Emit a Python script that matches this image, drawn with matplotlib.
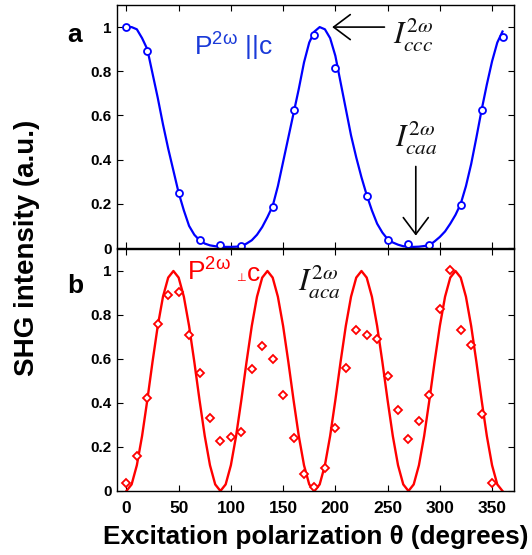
import matplotlib
matplotlib.use("Agg")
import matplotlib.pyplot as plt
import numpy as np

plt.rcParams['font.family'] = ['Liberation Sans', 'DejaVu Sans']
plt.rcParams['mathtext.fontset'] = 'custom'
plt.rcParams['mathtext.rm'] = 'Liberation Sans'
plt.rcParams['mathtext.it'] = 'Liberation Sans:italic'
plt.rcParams['mathtext.bf'] = 'Liberation Sans:bold'

# panel a: P(2w) || c, measured points
par_theta = [0, 20, 50, 70, 90, 110, 140, 160, 180, 200, 230, 250, 270, 290, 320, 340, 360]
par_int = [1.0, 0.893, 0.25, 0.038, 0.012, 0.011, 0.186, 0.624, 0.962, 0.813,
           0.235, 0.038, 0.018, 0.012, 0.196, 0.626, 0.953]

# fitted curve read every 5 degrees
fit_theta = np.arange(0, 361, 5)
par_fit = [1.00, 1.00, 0.99, 0.95, 0.90, 0.79, 0.68, 0.56, 0.45, 0.35,
           0.25, 0.17, 0.10, 0.06, 0.035, 0.02, 0.012, 0.008, 0.006, 0.005,
           0.005, 0.006, 0.008, 0.02, 0.035, 0.06, 0.095, 0.14, 0.19, 0.28,
           0.39, 0.50, 0.61, 0.72, 0.84, 0.93, 0.98, 1.00, 0.99, 0.95,
           0.87, 0.75, 0.63, 0.51, 0.41, 0.32, 0.24, 0.17, 0.11, 0.07,
           0.04, 0.025, 0.015, 0.008, 0.006, 0.005, 0.006, 0.009, 0.012, 0.03,
           0.05, 0.075, 0.11, 0.15, 0.20, 0.28, 0.38, 0.50, 0.625, 0.74,
           0.845, 0.93, 0.98]

# panel b: P(2w) perp c
perp_theta = np.arange(0, 351, 10)
perp_int = [0.036, 0.159, 0.423, 0.757, 0.893, 0.906, 0.710, 0.538, 0.332, 0.228,
            0.245, 0.270, 0.554, 0.659, 0.601, 0.438, 0.239, 0.076, 0.018, 0.104,
            0.286, 0.557, 0.731, 0.710, 0.693, 0.523, 0.367, 0.236, 0.317, 0.438,
            0.828, 1.003, 0.730, 0.665, 0.349, 0.038]
perp_fit = [0.0, 0.03, 0.117, 0.25, 0.413, 0.587, 0.75, 0.883, 0.97, 1.0,
            0.97, 0.883, 0.75, 0.587, 0.413, 0.25, 0.117, 0.03, 0.0,
            0.03, 0.117, 0.25, 0.413, 0.587, 0.75, 0.883, 0.97, 1.0,
            0.97, 0.883, 0.75, 0.587, 0.413, 0.25, 0.117, 0.03, 0.0,
            0.03, 0.117, 0.25, 0.413, 0.587, 0.75, 0.883, 0.97, 1.0,
            0.97, 0.883, 0.75, 0.587, 0.413, 0.25, 0.117, 0.03, 0.0,
            0.03, 0.117, 0.25, 0.413, 0.587, 0.75, 0.883, 0.97, 1.0,
            0.97, 0.883, 0.75, 0.587, 0.413, 0.25, 0.117, 0.03, 0.0]

x_ticks = [0, 50, 100, 150, 200, 250, 300, 350]
y_ticks = [0, 0.2, 0.4, 0.6, 0.8, 1.0]
y_ticklabels = ["0", "0.2", "0.4", "0.6", "0.8", "1"]

blue = "#0000ff"
red = "#ff0000"

fig = plt.figure(figsize=(5.32, 5.55), dpi=100)
ax_a = fig.add_axes([117 / 532, 1 - 248 / 555, 397 / 532, 243 / 555])
ax_b = fig.add_axes([117 / 532, 1 - 491 / 555, 397 / 532, 242 / 555])

for ax in (ax_a, ax_b):
    ax.set_xlim(-9, 371)
    ax.set_ylim(0, 1.1)
    ax.set_xticks(x_ticks)
    ax.set_yticks(y_ticks)
    ax.set_yticklabels(y_ticklabels, fontsize=11, fontweight="bold")
    ax.tick_params(direction="in", top=True, right=True, length=4, width=0.8, pad=4)
    for s in ax.spines.values():
        s.set_linewidth(1.0)

ax_a.tick_params(labelbottom=False)
ax_b.set_xticklabels([str(t) for t in x_ticks], fontsize=12.5, fontweight="bold")
ax_b.tick_params(axis="x", pad=7)

ax_a.plot(fit_theta, par_fit, color=blue, lw=1.6)
ax_a.plot(par_theta, par_int, "o", color=blue, mfc="white", ms=5, mew=1.3)

ax_b.plot(fit_theta, perp_fit, color=red, lw=1.7)
ax_b.plot(perp_theta, perp_int, "D", color=red, mfc="white", ms=4.5, mew=1.3)

ax_a.text(65, 0.87, r"P$^{\mathrm{2\omega}}$ ||c", color="#1a3ad8", fontsize=19,
          math_fontfamily="custom")
ax_b.text(58, 0.955, r"P$^{\mathrm{2\omega}}$", color=red, fontsize=19,
          math_fontfamily="custom")
ax_b.text(104.5, 0.955, "⊥", color=red, fontsize=8, family="DejaVu Sans")
ax_b.text(115, 0.955, "c", color=red, fontsize=19)

ax_a.text(255, 0.924, r"$I^{2\omega}_{ccc}$", fontsize=22, math_fontfamily="stix", color="#111111")
ax_a.text(257, 0.46, r"$I^{2\omega}_{caa}$", fontsize=22, math_fontfamily="stix", color="#111111")
ax_b.text(164, 0.913, r"$I^{2\omega}_{aca}$", fontsize=22, math_fontfamily="stix", color="#111111")

arrow = dict(arrowstyle="->,head_length=0.6,head_width=0.45", lw=1.2, color="black",
             mutation_scale=20, shrinkA=0, shrinkB=0)
ax_a.annotate("", xy=(197, 1.0), xytext=(247, 1.0), arrowprops=arrow)
ax_a.annotate("", xy=(277, 0.056), xytext=(277, 0.369), arrowprops=arrow)

fig.text(67 / 532, 1 - 42 / 555, "a", fontsize=19, fontweight="bold")
fig.text(67 / 532, 1 - 293 / 555, "b", fontsize=19, fontweight="bold")

fig.text(27 / 532, 1 - 248 / 555, "SHG intensity (a.u.)", rotation=90, fontsize=20,
         fontweight="bold", ha="center", va="center")
fig.text(316 / 532, 1 - 544 / 555, "Excitation polarization θ (degrees)", fontsize=18.8,
         fontweight="bold", ha="center", va="baseline")

fig.savefig("out.png", dpi=100)
